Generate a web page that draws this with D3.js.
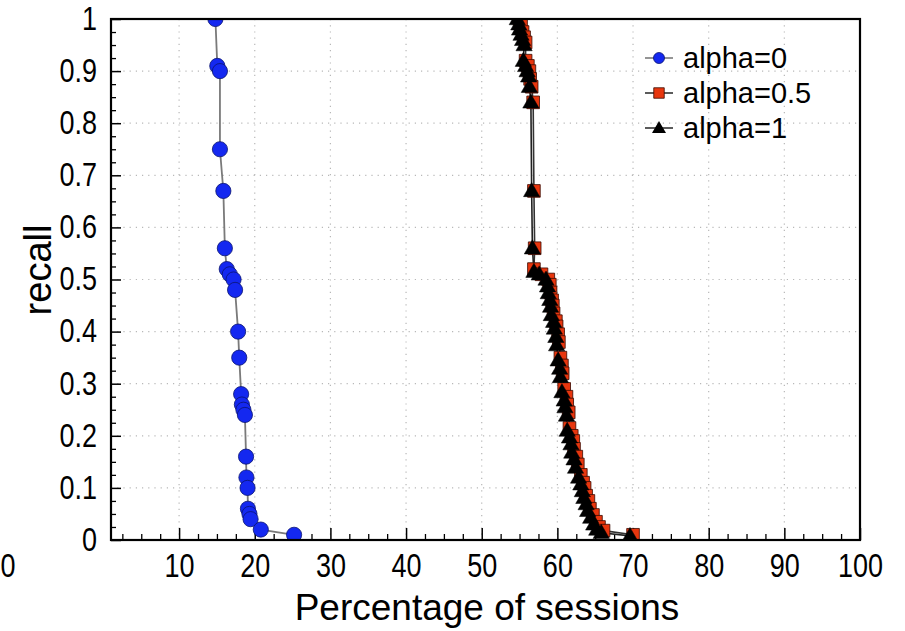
<!DOCTYPE html>
<html><head><meta charset="utf-8">
<script src="https://cdn.jsdelivr.net/npm/d3@7"></script>
<style>
body{margin:0;background:#fff;}
svg{display:block;font-family:"Liberation Sans",Arial,Helvetica,sans-serif;}
</style></head>
<body><svg id="chart" width="905" height="631"></svg>
<script>
// ---- data ----
const blueX = [14.8, 15.05, 15.4, 15.4, 15.85, 16.05, 16.3, 16.7, 17.2, 17.4, 17.8, 17.95, 18.2, 18.3, 18.5, 18.7, 18.85, 18.9, 19.05, 19.1, 19.3, 19.45, 20.8, 25.2];
const blueY = [1.0, 0.91, 0.90, 0.75, 0.67, 0.56, 0.52, 0.51, 0.50, 0.48, 0.40, 0.35, 0.28, 0.26, 0.25, 0.24, 0.16, 0.12, 0.10, 0.06, 0.05, 0.04, 0.02, 0.01];

const redX = [55.0, 55.2, 55.4, 55.6, 55.8, 55.8, 56.1, 56.3, 56.4, 56.6, 56.8, 56.9, 57.0, 56.9, 57.9, 58.8, 59.0, 59.1, 59.3, 59.4, 59.5, 59.8, 59.9, 60.1, 60.2, 60.4, 60.6, 60.7, 60.9, 61.2, 61.3, 61.5, 61.6, 61.9, 62.1, 62.2, 62.5, 62.7, 63.1, 63.4, 63.6, 63.8, 64.1, 64.3, 64.7, 65.1, 65.5, 66.1, 70.0];
const redY = [1.0, 0.99, 0.975, 0.965, 0.955, 0.92, 0.91, 0.90, 0.885, 0.87, 0.84, 0.67, 0.56, 0.52, 0.51, 0.50, 0.49, 0.475, 0.46, 0.45, 0.435, 0.42, 0.41, 0.395, 0.38, 0.35, 0.335, 0.32, 0.29, 0.275, 0.26, 0.245, 0.215, 0.20, 0.19, 0.175, 0.16, 0.145, 0.125, 0.11, 0.10, 0.085, 0.075, 0.06, 0.048, 0.035, 0.025, 0.018, 0.01];

const blackX = [54.7, 54.9, 55.0, 55.2, 55.4, 55.6, 55.5, 55.8, 56.0, 56.2, 56.3, 56.5, 56.6, 56.7, 56.9, 57.6, 58.5, 58.7, 58.8, 59.0, 59.1, 59.2, 59.5, 59.6, 59.8, 59.9, 60.1, 60.3, 60.4, 60.6, 60.9, 61.0, 61.2, 61.3, 61.6, 61.8, 61.9, 62.2, 62.4, 62.8, 63.1, 63.3, 63.5, 63.8, 64.0, 64.4, 64.8, 65.2, 65.8, 69.6];
const blackY = [1.0, 0.99, 0.98, 0.97, 0.96, 0.95, 0.92, 0.91, 0.90, 0.89, 0.87, 0.84, 0.67, 0.56, 0.515, 0.51, 0.50, 0.487, 0.474, 0.461, 0.448, 0.432, 0.419, 0.406, 0.39, 0.374, 0.345, 0.329, 0.313, 0.284, 0.268, 0.255, 0.239, 0.21, 0.197, 0.184, 0.168, 0.155, 0.139, 0.12, 0.107, 0.094, 0.081, 0.069, 0.056, 0.043, 0.03, 0.02, 0.014, 0.008];

const seriesNames = ["alpha=0", "alpha=0.5", "alpha=1"];
const xTickValues = [10, 20, 30, 40, 50, 60, 70, 80, 90, 100];
const xStrayLabel = "0";
const yTickValues = [0, 0.1, 0.2, 0.3, 0.4, 0.5, 0.6, 0.7, 0.8, 0.9, 1];
const xTitle = "Percentage of sessions";
const yTitle = "recall";

// ---- layout ----
const svg = d3.select("#chart");
const L = 111, R = 860, T = 19, B = 540;
const x = d3.scaleLinear().domain([1, 100]).range([L, R]);
const y = d3.scaleLinear().domain([0, 1]).range([B, T]);
const labelStretch = "scale(1,1.2)";

svg.append("defs").append("clipPath").attr("id", "plotclip")
  .append("rect").attr("x", L).attr("y", T).attr("width", R - L).attr("height", B - T);

// grid
const grid = svg.append("g").attr("stroke", "#b8b8b8").attr("stroke-width", 1.2).attr("stroke-dasharray", "1.2,5");
grid.selectAll(".gx").data(xTickValues.filter(v => v < 100)).enter().append("line")
  .attr("x1", d => x(d)).attr("x2", d => x(d)).attr("y1", T).attr("y2", B);
grid.selectAll(".gy").data(yTickValues.filter(v => v > 0 && v < 1)).enter().append("line")
  .attr("x1", L).attr("x2", R).attr("y1", d => y(d)).attr("y2", d => y(d));

// minor ticks
const xMinor = d3.range(2.5, 100, 2.5).filter(v => v % 10 !== 0);
const yMinor = d3.range(1, 40).map(i => i * 0.025).filter((v, i) => (i + 1) % 4 !== 0);
svg.append("g").attr("transform", `translate(0,${B})`)
  .call(d3.axisBottom(x).tickValues(xMinor).tickSize(-6).tickFormat(""))
  .call(g => g.select(".domain").remove())
  .selectAll("line").attr("stroke", "#000").attr("stroke-width", 1.3);
svg.append("g").attr("transform", `translate(${L},0)`)
  .call(d3.axisLeft(y).tickValues(yMinor).tickSize(-5).tickFormat(""))
  .call(g => g.select(".domain").remove())
  .selectAll("line").attr("stroke", "#000").attr("stroke-width", 1.3);

// major axes
const xAxis = svg.append("g").attr("transform", `translate(0,${B})`)
  .call(d3.axisBottom(x).tickValues(xTickValues).tickSize(-12).tickPadding(12).tickFormat(d3.format("d")))
  .call(g => g.select(".domain").remove());
xAxis.selectAll("line").attr("stroke", "#000").attr("stroke-width", 1.5);
xAxis.selectAll("text").attr("fill", "#000").attr("font-size", 27).attr("font-family", null)
  .attr("transform", labelStretch);

const yAxis = svg.append("g").attr("transform", `translate(${L},0)`)
  .call(d3.axisLeft(y).tickValues(yTickValues).tickSize(-10).tickPadding(14).tickFormat(d => d === 0 ? "0" : d === 1 ? "1" : d3.format(".1f")(d)))
  .call(g => g.select(".domain").remove());
yAxis.selectAll("line").attr("stroke", "#000").attr("stroke-width", 1.5);
yAxis.selectAll("text").attr("fill", "#000").attr("font-size", 27).attr("font-family", null)
  .attr("transform", labelStretch);

// stray "0" label at far left of x axis (as in the original)
svg.append("g").attr("transform", `translate(8,${B})`)
  .append("text").attr("y", 12).attr("dy", "0.71em").attr("text-anchor", "middle")
  .attr("font-size", 27).attr("transform", labelStretch).text(xStrayLabel);

// titles
svg.append("text").attr("x", 487).attr("y", 620).attr("text-anchor", "middle")
  .attr("font-size", 37).text(xTitle);
svg.append("text").attr("transform", "translate(51,270) rotate(-90)").attr("text-anchor", "middle")
  .attr("font-size", 38).text(yTitle);

// series
const plot = svg.append("g").attr("clip-path", "url(#plotclip)");
const line = d3.line().x(d => x(d[0])).y(d => y(d[1]));
const blue = blueX.map((v, i) => [v, blueY[i]]);
const red = redX.map((v, i) => [v, redY[i]]);
const black = blackX.map((v, i) => [v, blackY[i]]);

const styles = {
  blue: {fill: "#1428f0", stroke: "#0a1470", line: "#7a7a7a"},
  red: {fill: "#e8360e", stroke: "#3a0a00", line: "#333"},
  black: {fill: "#000", stroke: "#000", line: "#222"}
};
const sq = d3.symbol().type(d3.symbolSquare).size(160);
const tri = d3.symbol().type(d3.symbolTriangle).size(115);
const sqL = d3.symbol().type(d3.symbolSquare).size(110);
const triL = d3.symbol().type(d3.symbolTriangle).size(85);

plot.append("path").datum(blue).attr("d", line).attr("fill", "none").attr("stroke", styles.blue.line).attr("stroke-width", 1.8);
plot.selectAll(".cb").data(blue).enter().append("circle")
  .attr("cx", d => x(d[0])).attr("cy", d => y(d[1])).attr("r", 7.6)
  .attr("fill", styles.blue.fill).attr("stroke", styles.blue.stroke).attr("stroke-width", 0.8);

plot.append("path").datum(red).attr("d", line).attr("fill", "none").attr("stroke", styles.red.line).attr("stroke-width", 1.6);
plot.append("path").datum(black).attr("d", line).attr("fill", "none").attr("stroke", styles.black.line).attr("stroke-width", 1.6);
plot.selectAll(".sr").data(red).enter().append("path")
  .attr("transform", d => `translate(${x(d[0])},${y(d[1])})`).attr("d", sq)
  .attr("fill", styles.red.fill).attr("stroke", styles.red.stroke).attr("stroke-width", 0.8);
plot.selectAll(".tk").data(black).enter().append("path")
  .attr("transform", d => `translate(${x(d[0])},${y(d[1]) + 1})`).attr("d", tri)
  .attr("fill", styles.black.fill).attr("stroke", styles.black.stroke).attr("stroke-width", 0.5);

// frame
svg.append("rect").attr("x", L).attr("y", T).attr("width", R - L).attr("height", B - T)
  .attr("fill", "none").attr("stroke", "#000").attr("stroke-width", 2.2);

// legend
const legY = [58, 93, 128];
const leg = svg.append("g");
const lx1 = 645, lx2 = 673, lxm = 659, ltx = 683;
seriesNames.forEach((name, i) => {
  const g = leg.append("g").attr("transform", `translate(0,${legY[i]})`);
  g.append("line").attr("x1", lx1).attr("x2", lx2).attr("y1", 0).attr("y2", 0)
    .attr("stroke", i === 0 ? styles.blue.line : "#333").attr("stroke-width", 1.6);
  if (i === 0) g.append("circle").attr("cx", lxm).attr("cy", 0).attr("r", 5.5)
    .attr("fill", styles.blue.fill).attr("stroke", styles.blue.stroke).attr("stroke-width", 0.8);
  if (i === 1) g.append("path").attr("transform", `translate(${lxm},0)`).attr("d", sqL)
    .attr("fill", styles.red.fill).attr("stroke", styles.red.stroke).attr("stroke-width", 0.8);
  if (i === 2) g.append("path").attr("transform", `translate(${lxm},1)`).attr("d", triL)
    .attr("fill", "#000");
  g.append("text").attr("x", ltx).attr("y", 0).attr("dy", "0.35em")
    .attr("font-size", 29).text(name);
});
</script></body></html>
